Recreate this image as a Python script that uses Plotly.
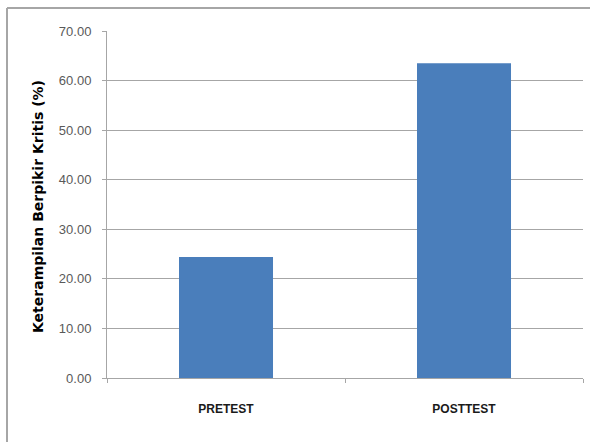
import plotly.graph_objects as go

categories = ["PRETEST", "POSTTEST"]
values = [24.4, 63.5]
y_ticks = [0, 10, 20, 30, 40, 50, 60, 70]
y_title = "Keterampilan Berpikir Kritis (%)"

W, H = 590, 442
L, R, T, B = 107, 7, 31, 64
pw, ph = W - L - R, H - T - B

def px_x(px):
    return (px - L) / pw

def px_y(py):
    return (H - B - py) / ph

fig = go.Figure(go.Bar(
    x=categories, y=values,
    marker=dict(color="#4a7ebb", line=dict(width=0)),
))

fig.update_layout(
    width=W, height=H,
    margin=dict(l=L, r=R, t=T, b=B),
    paper_bgcolor="white", plot_bgcolor="white",
    bargap=0.605,
    showlegend=False,
    font=dict(family="Liberation Sans, Arial, sans-serif"),
)

fig.update_yaxes(
    range=[0, 70], tickvals=y_ticks,
    ticktext=[f"{v:.2f}" for v in y_ticks],
    showgrid=True, gridcolor="#a6a6a6", gridwidth=1,
    showline=True, linecolor="#a6a6a6", linewidth=1,
    ticks="outside", ticklen=4, tickcolor="#a6a6a6",
    tickfont=dict(size=13, color="#595959", family="Liberation Sans, Arial, sans-serif"),
    ticklabelstandoff=8,
    zeroline=False,
)
fig.update_xaxes(
    showline=True, linecolor="#a6a6a6", linewidth=1,
    ticks="outside", tickson="boundaries", ticklen=4, tickcolor="#a6a6a6",
    tickfont=dict(size=12, color="#1a1a1a", family="Liberation Sans, Arial, sans-serif", weight="bold"),
    ticklabelstandoff=20,
)

fig.add_annotation(
    text=f"<b>{y_title}</b>", textangle=-90,
    xref="paper", yref="paper",
    x=px_x(38), y=px_y(207), xanchor="center", yanchor="middle",
    showarrow=False,
    font=dict(size=14, color="#000000", family="DejaVu Sans, Verdana, sans-serif"),
)

border = "#a6a6a6"
fig.add_shape(type="line", xref="paper", yref="paper",
              x0=px_x(7), x1=px_x(W + 5), y0=px_y(8), y1=px_y(8),
              line=dict(color=border, width=2))
fig.add_shape(type="line", xref="paper", yref="paper",
              x0=px_x(7), x1=px_x(7), y0=px_y(8), y1=px_y(H + 5),
              line=dict(color=border, width=2))

fig.write_html("out.html")
